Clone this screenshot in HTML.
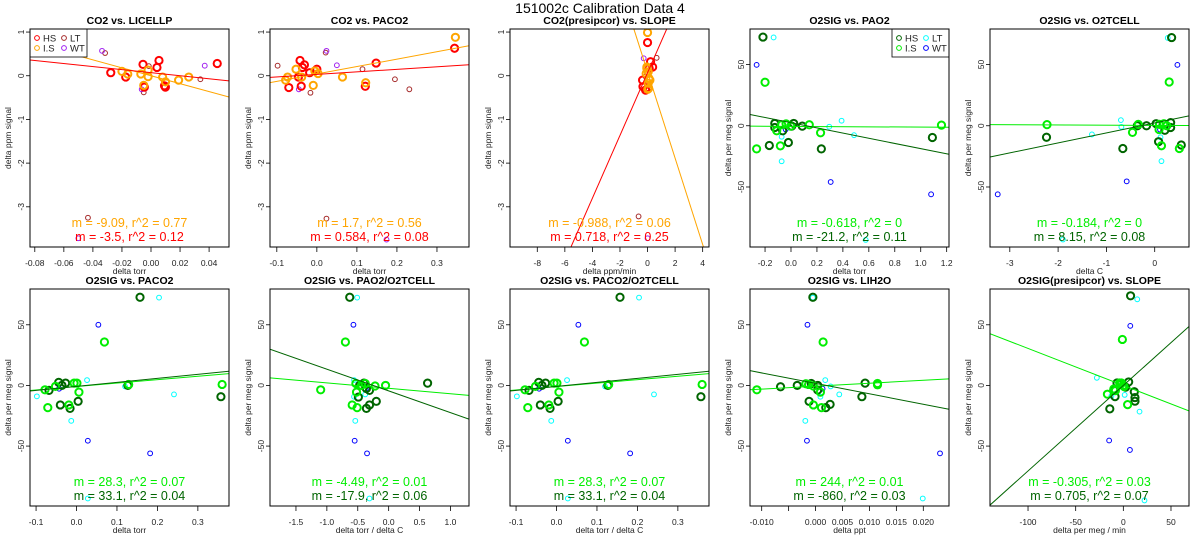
<!DOCTYPE html>
<html><head><meta charset="utf-8"><style>
html,body{margin:0;padding:0;background:#fff;}
svg{display:block;font-family:"Liberation Sans",Arial,sans-serif;}
</style></head><body>
<svg id="chart" width="1200" height="550" viewBox="0 0 1200 550" xmlns="http://www.w3.org/2000/svg">
<text x="600" y="13" text-anchor="middle" font-size="14">151002c   Calibration Data 4</text>
</svg>
<script>
// ---- data arrays (x, y per group per panel) ----
// P1 CO2 vs LICELLP
const p1HSx=[-0.0277,-0.0174,-0.0055,-0.0046,0.0041,0.0055,0.0093,0.0099,0.0456];
const p1HSy=[0.07,-0.03,0.26,-0.26,0.19,0.35,-0.23,-0.26,0.28];
const p1ISx=[-0.020,-0.016,-0.007,-0.005,-0.002,-0.002,0.008,0.010,0.019,0.026];
const p1ISy=[0.10,0.04,0.04,-0.22,0.13,-0.02,-0.03,-0.14,-0.10,-0.03];
const p1LTx=[-0.0316,-0.0015,-0.005,0.034,-0.0434];
const p1LTy=[0.52,0.22,-0.38,-0.08,-3.25];
const p1WTx=[-0.0337,-0.0064,0.037,-0.050];
const p1WTy=[0.57,-0.31,0.23,-3.72];
const p1Slopes=[-9.09,-3.5], p1Ints=[0,0.07];
const p1Stats=["m = -9.09, r^2 = 0.77","m = -3.5, r^2 = 0.12"];
// P2 CO2 vs PACO2
const p2HSx=[-0.07,-0.042,-0.031,-0.036,-0.046,-0.039,-0.018,0,0.148,0.121,0.344];
const p2HSy=[-0.27,0.35,0.25,0.19,-0.03,-0.24,0.07,0.15,0.29,-0.24,0.63];
const p2ISx=[-0.078,-0.073,-0.052,-0.038,-0.009,-0.005,0.003,0.064,0.122,0.346];
const p2ISy=[-0.10,-0.03,0.15,-0.03,-0.22,0.11,0.05,-0.03,-0.16,0.88];
const p2LTx=[-0.098,-0.016,0.022,0.195,0.231,0.024,0.114];
const p2LTy=[0.23,-0.39,0.53,-0.08,-0.31,-3.27,0.15];
const p2WTx=[0.024,-0.045,0.05,0.174];
const p2WTy=[0.57,-0.31,0.24,-3.75];
const p2Slopes=[1.7,0.584], p2Ints=[0.04,0.03];
const p2Stats=["m = 1.7, r^2 = 0.56","m = 0.584, r^2 = 0.08"];
// P3 CO2(presipcor) vs SLOPE
const p3HSx=[0,0.22,0.37,0.12,-0.36,-0.33,0.05,-0.14];
const p3HSy=[0.76,0.32,0.20,0.17,-0.10,-0.25,-0.27,-0.33];
const p3ISx=[0,-0.05,0.05,0.1,0.05,0.02,-0.1,0.17,0.08,-0.05];
const p3ISy=[0.99,0.17,0.09,-0.06,-0.17,-0.31,0.05,-0.10,-0.29,0.20];
const p3LTx=[0.66,-0.14,-0.65,-0.26];
const p3LTy=[0.41,-0.02,-3.22,-0.31];
const p3WTx=[-0.28,0.05,0.1,0];
const p3WTy=[0.40,0.18,-0.21,-3.72];
const p3Slopes=[-0.988,0.718], p3Ints=[0.09,0.07];
const p3Stats=["m = -0.988, r^2 = 0.06","m = 0.718, r^2 = 0.25"];
// P4 O2SIG vs PAO2
const p4HSx=[-0.216,-0.125,-0.125,-0.167,-0.064,-0.02,0.021,0.087,0.234,1.09,0.005];
const p4HSy=[72.4,1.9,-1.4,-16.1,-4.1,-13.7,1.9,-0.3,-18.9,-9.6,-0.3];
const p4ISx=[-0.2,-0.265,-0.082,-0.11,-0.072,-0.038,-0.002,0.141,0.228,1.16];
const p4ISy=[35.5,-18.9,-16.4,-4.1,0.8,1.6,-0.3,0.8,-5.7,0.5];
const p4LTx=[-0.134,-0.072,-0.072,0.295,0.39,0.486,0.576];
const p4LTy=[72.1,-9,-29,-0.8,4.1,-7.7,-93.2];
const p4WTx=[-0.265,-0.041,0.306,1.08];
const p4WTy=[49.7,-3,-45.9,-56];
const p4Slopes=[-0.618,-21.2], p4Ints=[-0.5,2.5];
const p4Stats=["m = -0.618, r^2 = 0","m = -21.2, r^2 = 0.11"];
// P5 O2SIG vs O2TCELL
const p5HSx=[0.35,-0.66,-2.24,-0.36,-0.17,0.03,0.08,0.21,0.33,0.33,0.55];
const p5HSy=[72,-18.6,-9.4,0,0,1.7,-13,-3.7,2.6,-1.4,-15.7];
const p5ISx=[0.3,-2.23,-0.34,-0.46,0.09,0.1,0.19,0.14,0.51,0.25];
const p5ISy=[35.7,0.9,1.1,-5.4,-3.1,1.1,1.7,-16.3,-18.6,0];
const p5LTx=[0.27,-0.7,-0.69,-1.3,0.12,0.14,-1.9];
const p5LTy=[71.7,4.6,-0.9,-7.1,-9.4,-28.9,-92.9];
const p5WTx=[0.47,-0.58,-3.25,0.11];
const p5WTy=[49.7,-45.4,-56,-3.1];
const p5Slopes=[-0.184,8.15], p5Ints=[0.3,2.3];
const p5Stats=["m = -0.184, r^2 = 0","m = 8.15, r^2 = 0.08"];
// P6 / P8 O2SIG vs PACO2
const p6HSx=[0.157,-0.044,-0.027,-0.036,-0.068,-0.04,-0.016,0.004,0.127,0.357];
const p6HSy=[72.7,2.5,1.9,0,-4.1,-16.1,-18.9,-13.1,0,-9.3];
const p6ISx=[0.069,-0.078,-0.071,-0.052,-0.019,-0.006,0.001,0.006,0.129,0.36];
const p6ISy=[35.8,-3.6,-18.3,-0.8,-16.1,1.9,1.9,-5.5,0.8,0.8];
const p6LTx=[0.204,0.026,-0.098,-0.013,0.12,0.241,0.028];
const p6LTy=[72.4,4.4,-9,-29.2,-0.8,-7.4,-93.2];
const p6WTx=[0.054,-0.043,0.028,0.182];
const p6WTy=[50,-2.7,-45.6,-56];
const p6Slopes=[28.3,33.1], p6Ints=[-0.9,-0.8];
const p6Stats=["m = 28.3, r^2 = 0.07","m = 33.1, r^2 = 0.04"];
// P7 O2SIG vs PAO2/O2TCELL
const p7HSx=[-0.63,0.63,-0.4,-0.47,-0.31,-0.31,-0.36,-0.2,-0.49,-0.36];
const p7HSy=[72.7,1.9,1.9,0,-4.1,-16.1,-18.9,-13.1,-9.6,-2.5];
const p7ISx=[-0.7,-1.1,-0.51,-0.59,-0.53,-0.38,-0.22,-0.05,-0.52,-0.44];
const p7ISy=[35.8,-3.6,-18.3,-16.1,1.6,1.6,-0.5,0,-5.5,0];
const p7LTx=[-0.51,-0.56,-0.56,-0.54,-0.38,-0.31];
const p7LTy=[72.4,4.4,-9.3,-29.2,-7.4,-93.2];
const p7WTx=[-0.57,-0.37,-0.55,-0.35];
const p7WTy=[50,-2.7,-45.6,-56];
const p7Slopes=[-4.49,-17.9], p7Ints=[-2.4,-4.5];
const p7Stats=["m = -4.49, r^2 = 0.01","m = -17.9, r^2 = 0.06"];
// P9 O2SIG vs LIH2O
const p9HSx=[-0.0005,0.0092,0.0004,-0.0034,-0.0065,-0.0012,0.0004,0.0019,0.0027,0.0086,-0.0008];
const p9HSy=[72.7,1.9,0,0,-1.1,-13.1,-3.8,-18.3,-15.6,-9.3,1.6];
const p9ISx=[0.0014,-0.0109,-0.0004,0.0011,-0.0018,-0.0013,0.0009,0.0115,0.0115,-0.0004];
const p9ISy=[35.8,-3.6,-16.1,-18.3,1.4,0.8,-5.5,1.6,0.5,-0.5];
const p9LTx=[-0.0005,0.0018,0.0009,-0.0019,0.0028,0.0044,0.0199];
const p9LTy=[72.4,4.4,-9.3,-29.2,-0.8,-7.4,-93.2];
const p9WTx=[-0.0015,0.0013,-0.0016,0.0231];
const p9WTy=[50,-2.7,-45.6,-56];
const p9Slopes=[244,-860], p9Ints=[-0.6,1.7];
const p9Stats=["m = 244, r^2 = 0.01","m = -860, r^2 = 0.03"];
// P10 O2SIG(presipcor) vs SLOPE
const p10HSx=[7.6,5.6,-6.6,-10,-8.7,-14.2,11.5,12.2,12.2,2.4];
const p10HSy=[73.9,2.9,2,-3.7,-9.2,-19.3,-5.2,-10,-13,-1.4];
const p10ISx=[-1,-16.7,4.5,-3.8,-2,0,-10,-8.3,-3,0.7];
const p10ISy=[37.9,-7.2,-15.8,2,2,0,-2.9,-4.3,0.9,-0.9];
const p10LTx=[14.6,-27.8,-12.5,1.4,17,22.2];
const p10LTy=[71,6.3,-8.6,-7.8,-21.6,-94.8];
const p10WTx=[7.3,-14.9,6.9,2.1];
const p10WTy=[49.1,-45.4,-53.2,-2.3];
const p10Slopes=[-0.305,0.705], p10Ints=[0,0];
const p10Stats=["m = -0.305, r^2 = 0.03","m = 0.705, r^2 = 0.07"];

// tick labels
const co2YTicks=[1,0,-1,-2,-3];
const o2YTicks=[50,0,-50];
const p1XTicks=["-0.08","-0.06","-0.04","-0.02","0.00","0.02","0.04"];
const p2XTicks=["-0.1","0.0","0.1","0.2","0.3"];
const p3XTicks=["-8","-6","-4","-2","0","2","4"];
const p4XTicks=["-0.2","0.0","0.2","0.4","0.6","0.8","1.0","1.2"];
const p5XTicks=["-3","-2","-1","0"];
const p7XTicks=["-1.5","-1.0","-0.5","0.0","0.5","1.0"];
const p9XTicks=["-0.010","-0.005","0.000","0.005","0.010","0.015","0.020"];
const p10XTicks=["-100","-50","0","50"];

const NS="http://www.w3.org/2000/svg";
const svg=document.getElementById('chart');
function mk(tag,attrs,parent){const e=document.createElementNS(NS,tag);for(const k in attrs)e.setAttribute(k,attrs[k]);(parent||svg).appendChild(e);return e;}

const CO2C={HS:"#ff0000",IS:"#ffa500",LT:"#a52a2a",WT:"#a020f0"};
const O2C={HS:"#006400",IS:"#00ee00",LT:"#00ffff",WT:"#0000ff"};

const panels=[
 {id:1,c:0,r:0,t:"CO2 vs. LICELLP",xl:"delta torr",yl:"delta ppm signal",xlim:[-0.0833,0.0537],ylim:[-3.92,1.07],xt:p1XTicks,yt:co2YTicks,col:CO2C,hx:p1HSx,hy:p1HSy,ix:p1ISx,iy:p1ISy,lx:p1LTx,ly:p1LTy,wx:p1WTx,wy:p1WTy,sl:p1Slopes,ic:p1Ints,st:p1Stats,leg:"left"},
 {id:2,c:1,r:0,t:"CO2 vs. PACO2",xl:"delta torr",yl:"delta ppm signal",xlim:[-0.117,0.38],ylim:[-3.92,1.07],xt:p2XTicks,yt:co2YTicks,col:CO2C,hx:p2HSx,hy:p2HSy,ix:p2ISx,iy:p2ISy,lx:p2LTx,ly:p2LTy,wx:p2WTx,wy:p2WTy,sl:p2Slopes,ic:p2Ints,st:p2Stats},
 {id:3,c:2,r:0,t:"CO2(presipcor) vs. SLOPE",xl:"delta ppm/min",yl:"delta ppm signal",xlim:[-9.98,4.46],ylim:[-3.92,1.07],xt:p3XTicks,yt:co2YTicks,col:CO2C,hx:p3HSx,hy:p3HSy,ix:p3ISx,iy:p3ISy,lx:p3LTx,ly:p3LTy,wx:p3WTx,wy:p3WTy,sl:p3Slopes,ic:p3Ints,st:p3Stats},
 {id:4,c:3,r:0,t:"O2SIG vs. PAO2",xl:"delta torr",yl:"delta per meg signal",xlim:[-0.316,1.218],ylim:[-99,79],xt:p4XTicks,yt:o2YTicks,col:O2C,hx:p4HSx,hy:p4HSy,ix:p4ISx,iy:p4ISy,lx:p4LTx,ly:p4LTy,wx:p4WTx,wy:p4WTy,sl:p4Slopes,ic:p4Ints,st:p4Stats,leg:"right"},
 {id:5,c:4,r:0,t:"O2SIG vs. O2TCELL",xl:"delta C",yl:"delta per meg signal",xlim:[-3.41,0.71],ylim:[-99,79],xt:p5XTicks,yt:o2YTicks,col:O2C,hx:p5HSx,hy:p5HSy,ix:p5ISx,iy:p5ISy,lx:p5LTx,ly:p5LTy,wx:p5WTx,wy:p5WTy,sl:p5Slopes,ic:p5Ints,st:p5Stats},
 {id:6,c:0,r:1,t:"O2SIG vs. PACO2",xl:"delta torr",yl:"delta per meg signal",xlim:[-0.115,0.377],ylim:[-99.4,79.5],xt:p2XTicks,yt:o2YTicks,col:O2C,hx:p6HSx,hy:p6HSy,ix:p6ISx,iy:p6ISy,lx:p6LTx,ly:p6LTy,wx:p6WTx,wy:p6WTy,sl:p6Slopes,ic:p6Ints,st:p6Stats},
 {id:7,c:1,r:1,t:"O2SIG vs. PAO2/O2TCELL",xl:"delta torr / delta C",yl:"delta per meg signal",xlim:[-1.92,1.30],ylim:[-99.4,79.5],xt:p7XTicks,yt:o2YTicks,col:O2C,hx:p7HSx,hy:p7HSy,ix:p7ISx,iy:p7ISy,lx:p7LTx,ly:p7LTy,wx:p7WTx,wy:p7WTy,sl:p7Slopes,ic:p7Ints,st:p7Stats},
 {id:8,c:2,r:1,t:"O2SIG vs. PACO2/O2TCELL",xl:"delta torr / delta C",yl:"delta per meg signal",xlim:[-0.115,0.377],ylim:[-99.4,79.5],xt:p2XTicks,yt:o2YTicks,col:O2C,hx:p6HSx,hy:p6HSy,ix:p6ISx,iy:p6ISy,lx:p6LTx,ly:p6LTy,wx:p6WTx,wy:p6WTy,sl:p6Slopes,ic:p6Ints,st:p6Stats},
 {id:9,c:3,r:1,t:"O2SIG vs. LIH2O",xl:"delta ppt",yl:"delta per meg signal",xlim:[-0.01217,0.02477],ylim:[-99.4,79.5],xt:p9XTicks,yt:o2YTicks,col:O2C,hx:p9HSx,hy:p9HSy,ix:p9ISx,iy:p9ISy,lx:p9LTx,ly:p9LTy,wx:p9WTx,wy:p9WTy,sl:p9Slopes,ic:p9Ints,st:p9Stats,skip:["-0.005"]},
 {id:10,c:4,r:1,t:"O2SIG(presipcor) vs. SLOPE",xl:"delta per meg / min",yl:"delta per meg signal",xlim:[-139.9,68.9],ylim:[-99.4,79.5],xt:p10XTicks,yt:o2YTicks,col:O2C,hx:p10HSx,hy:p10HSy,ix:p10ISx,iy:p10ISy,lx:p10LTx,ly:p10LTy,wx:p10WTx,wy:p10WTy,sl:p10Slopes,ic:p10Ints,st:p10Stats}
];

panels.forEach(p=>{
  const L=240*p.c+30, R=240*p.c+229;
  const T=p.r?289:29, B=p.r?506:247;
  const sx=v=>L+(v-p.xlim[0])/(p.xlim[1]-p.xlim[0])*(R-L);
  const sy=v=>B-(v-p.ylim[0])/(p.ylim[1]-p.ylim[0])*(B-T);
  const g=mk('g',{});
  
  
  const cid='clip'+p.id;
  const cp=mk('clipPath',{id:cid},g); mk('rect',{x:L,y:T,width:R-L,height:B-T},cp);
  const ti=mk('text',{x:(L+R)/2,y:T-5,'text-anchor':'middle','font-size':'10.5','font-weight':'bold'},g);
  ti.textContent=p.t;
  
  
  p.xt.forEach(s=>{
    const v=parseFloat(s), x=sx(v);
    const tk=mk('line',{x1:x,x2:x,y1:B,y2:B+5,stroke:'#000','stroke-width':0.8},g);
    
    
    if(p.skip&&p.skip.includes(s))return;
    const tl=mk('text',{x:x,y:B+19,'text-anchor':'middle','font-size':'8.5',fill:'#222'},g);
    tl.textContent=s;
    
    
  });
  p.yt.forEach(v=>{
    const y=sy(v);
    const tk=mk('line',{x1:L-4,x2:L,y1:y,y2:y,stroke:'#000','stroke-width':0.8},g);
    
    
    const tl=mk('text',{x:L-6,y:y,'text-anchor':'middle','font-size':'8.5',fill:'#222',transform:`rotate(-90 ${L-6} ${y})`},g);
    tl.textContent=String(v);
    
    
  });
  const xl=mk('text',{x:(L+R)/2,y:B+27,'text-anchor':'middle','font-size':'8.5',fill:'#222'},g);
  xl.textContent=p.xl;
  
  
  const yx=L-19, yy=(T+B)/2;
  const yl=mk('text',{x:yx,y:yy,'text-anchor':'middle','font-size':'8.5',fill:'#222',transform:`rotate(-90 ${yx} ${yy})`},g);
  yl.textContent=p.yl;
  
  
  const pg=mk('g',{'clip-path':`url(#${cid})`},g);
  const groups=[[p.lx,p.ly,p.col.LT,false,'lt'],[p.wx,p.wy,p.col.WT,false,'wt'],[p.hx,p.hy,p.col.HS,true,'hs'],[p.ix,p.iy,p.col.IS,true,'is']];
  groups.forEach(([xs,ys,c,thick,nm])=>{
    xs.forEach((xv,i)=>{
      const ci=mk('circle',{cx:sx(xv),cy:sy(ys[i]),r:thick?3.6:2.4,fill:'none',stroke:c,'stroke-width':thick?2:1},pg);
      
      
    });
  });
  const lc=[p.col.IS,p.col.HS];
  p.sl.forEach((m,i)=>{
    const x0=p.xlim[0],x1=p.xlim[1];
    const ln=mk('line',{x1:sx(x0),y1:sy(m*x0+p.ic[i]),x2:sx(x1),y2:sy(m*x1+p.ic[i]),stroke:lc[i],'stroke-width':1},pg);
    
    
  });
  p.st.forEach((s,i)=>{
    const tx=mk('text',{x:(L+R)/2,y:B-(i?6:20),'text-anchor':'middle','font-size':'12.5',fill:lc[i]},g);
    tx.textContent=s;
    
    
  });
  if(p.leg){
    const lx0=p.leg==='left'?L:R-57;
    const lg=mk('g',{},g);
    
    
    mk('rect',{x:lx0,y:T,width:57,height:28,fill:'#fff',stroke:'#000','stroke-width':0.8},lg);
    [['HS',p.col.HS,0,0],['LT',p.col.LT,1,0],['I.S',p.col.IS,0,1],['WT',p.col.WT,1,1]].forEach(([n,c,cx,cy])=>{
      const ex=lx0+7+cx*27, ey=T+9+cy*10;
      const m=mk('circle',{cx:ex,cy:ey,r:2.4,fill:'none',stroke:c,'stroke-width':1},lg);
      
      
      const t=mk('text',{x:ex+6,y:ey+3.5,'font-size':'9.5',fill:'#222'},lg);
      t.textContent=n;
      
      
    });
  }
  const box=mk('rect',{x:L,y:T,width:R-L,height:B-T,fill:'none',stroke:'#000','stroke-width':1},g);
  
  
});
</script>
</body></html>
